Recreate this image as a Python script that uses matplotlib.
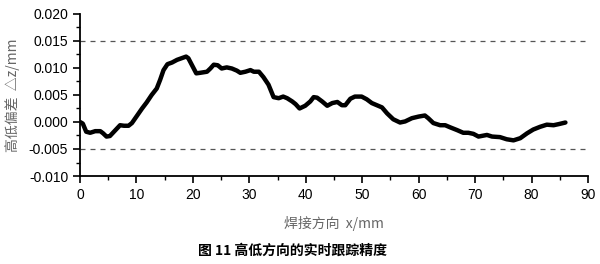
import matplotlib.pyplot as plt
from matplotlib.ticker import MultipleLocator

plt.rcParams['font.family'] = ['Liberation Sans', 'Noto Sans CJK SC', 'DejaVu Sans']

# 焊接方向 x (mm) 与 高低偏差 dz (mm)
x_mm = [0.0, 0.5, 1.1, 1.8, 2.7, 3.6, 4.1, 4.7, 5.3, 6.2, 7.1, 7.8, 8.6, 9.2,
        10.0, 11.0, 11.8, 12.7, 13.6, 14.2, 14.8, 15.5, 16.3, 17.2, 18.0, 18.8,
        19.2, 19.8, 20.6, 21.3, 22.5, 23.1, 23.7, 24.4, 25.1, 26.0, 26.9, 27.8,
        28.4, 29.3, 30.2, 30.8, 31.7, 32.5, 33.4, 34.3, 35.2, 36.0, 36.7, 37.6,
        38.2, 38.9, 39.9, 40.8, 41.4, 42.0, 42.9, 43.8, 44.7, 45.6, 46.4, 47.0,
        47.9, 48.7, 49.9, 50.8, 51.7, 52.6, 53.5, 54.4, 55.5, 56.7, 57.6, 58.8,
        60.0, 61.1, 61.7, 62.6, 63.8, 64.7, 65.6, 66.8, 67.9, 68.8, 69.7, 70.6,
        72.1, 73.0, 74.4, 75.6, 76.8, 78.0, 79.2, 80.3, 81.5, 82.7, 83.9, 84.8,
        86.0]
dz_mm = [0.0, -0.0003, -0.0018, -0.0020, -0.0017, -0.0017, -0.0021, -0.0027,
         -0.0026, -0.0016, -0.0006, -0.0007, -0.0007, -0.0002, 0.0010, 0.0025,
         0.0036, 0.0050, 0.0062, 0.0078, 0.0096, 0.0107, 0.0110, 0.0115, 0.0118,
         0.0121, 0.0118, 0.0106, 0.0090, 0.0091, 0.0093, 0.0099, 0.0106, 0.0105,
         0.0099, 0.0101, 0.0099, 0.0095, 0.0091, 0.0093, 0.0096, 0.0093, 0.0093,
         0.0083, 0.0069, 0.0046, 0.0044, 0.0047, 0.0044, 0.0038, 0.0033, 0.0025,
         0.0030, 0.0038, 0.0046, 0.0045, 0.0038, 0.0030, 0.0035, 0.0037, 0.0031,
         0.0031, 0.0043, 0.0047, 0.0047, 0.0042, 0.0035, 0.0031, 0.0027, 0.0016,
         0.0005, -0.0001, 0.0001, 0.0007, 0.0010, 0.0012, 0.0007, -0.0002,
         -0.0006, -0.0006, -0.0010, -0.0015, -0.0020, -0.0020, -0.0022, -0.0027,
         -0.0024, -0.0027, -0.0028, -0.0032, -0.0034, -0.0030, -0.0021, -0.0014,
         -0.0009, -0.0005, -0.0006, -0.0004, -0.0001]
limits = [0.015, -0.005]

fig = plt.figure(figsize=(6, 2.64), dpi=100)
ax = fig.add_axes([0.1333, 0.3333, 0.8467, 0.614])

for lim in limits:
    ax.axhline(lim, color='#555555', linestyle=(0, (4, 4)), linewidth=0.9)
ax.plot(x_mm, dz_mm, color='black', linewidth=3.2, solid_capstyle='round')

ax.set_xlim(0, 90)
ax.set_ylim(-0.010, 0.020)
ax.xaxis.set_major_locator(MultipleLocator(10))
ax.xaxis.set_minor_locator(MultipleLocator(5))
ax.yaxis.set_major_locator(MultipleLocator(0.005))
ax.yaxis.set_minor_locator(MultipleLocator(0.0025))
ax.yaxis.set_major_formatter(plt.FormatStrFormatter('%.3f'))
ax.tick_params(which='major', direction='out', length=5, width=1.2, labelsize=10)
ax.tick_params(which='minor', direction='out', length=3, width=1.0)
ax.spines['top'].set_visible(False)
ax.spines['right'].set_visible(False)
for s in ['left', 'bottom']:
    ax.spines[s].set_linewidth(1.3)

ax.set_xlabel('焊接方向  x/mm', color='#666666', fontsize=10, labelpad=10,
              family=['Noto Sans CJK SC', 'DejaVu Sans'])
ax.set_ylabel('高低偏差  △z/mm', color='#666666', fontsize=10, labelpad=6,
              family=['Noto Sans CJK SC', 'DejaVu Sans'])
fig.text(0.488, 0.05, '图 11 高低方向的实时跟踪精度', ha='center', va='center',
         fontsize=10, fontweight='bold', family=['Noto Sans CJK SC', 'DejaVu Sans'])

fig.savefig('out.png', dpi=100)
